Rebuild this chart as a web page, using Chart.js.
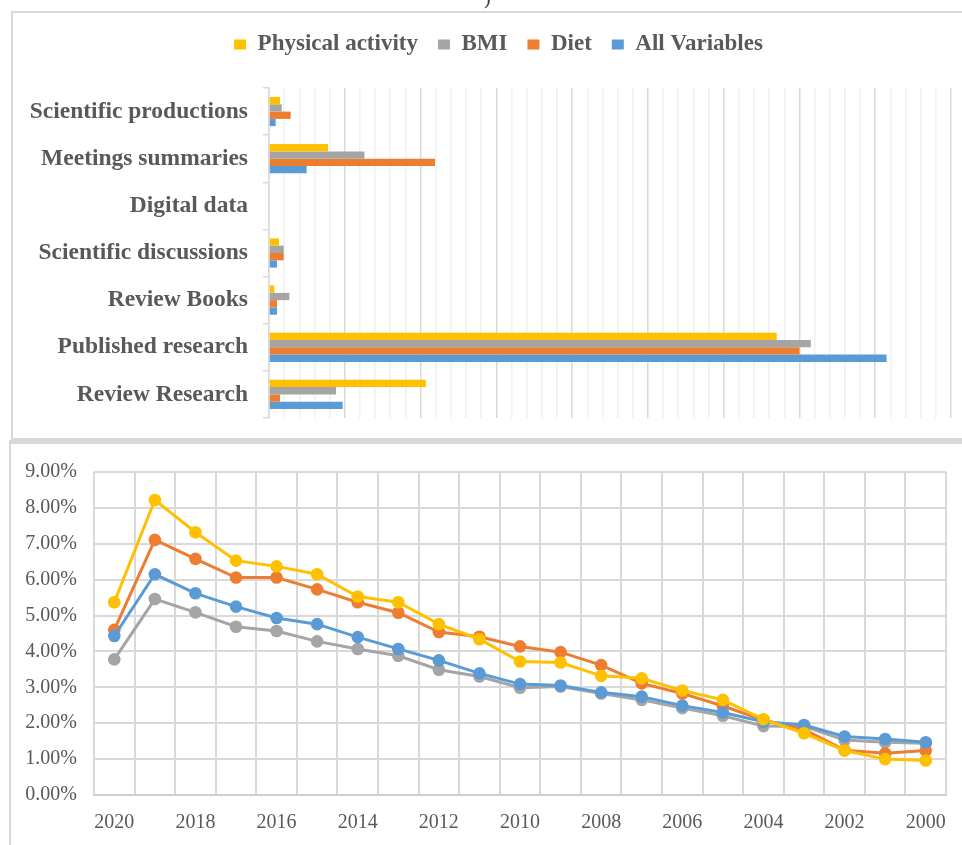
<!DOCTYPE html>
<html>
<head>
<meta charset="utf-8">
<script src="https://cdn.jsdelivr.net/npm/chart.js@4.4.0/dist/chart.umd.min.js"></script>
<style>
html,body{margin:0;padding:0;background:#fff;width:962px;height:845px;overflow:hidden;position:relative;}
#frameTop{position:absolute;left:11px;top:11px;width:1000px;height:429px;border:2px solid #d9d9d9;box-sizing:border-box;}
#frameBot{position:absolute;left:9px;top:440px;width:1000px;height:430px;border:2px solid #d9d9d9;border-top-width:4px;box-sizing:border-box;}
#c1wrap{position:absolute;left:0;top:0;width:997px;height:440px;}
#c2wrap{position:absolute;left:0;top:441px;width:962px;height:404px;}
#paren{position:absolute;left:484px;top:-13px;font:20px 'Liberation Serif';color:#333;line-height:20px;}
</style>
</head>
<body>
<div id="paren">)</div>
<div id="frameTop"></div>
<div id="frameBot"></div>
<div id="c1wrap"><canvas id="c1"></canvas></div>
<div id="c2wrap"><canvas id="c2"></canvas></div>
<script>
// ---- Top chart data (percent share by publication type) ----
const categories = ['Scientific productions','Meetings summaries','Digital data','Scientific discussions','Review Books','Published research','Review Research'];
const physicalActivity = [1.45, 7.78, 0, 1.32, 0.70, 67.0, 20.7];
const bmi = [1.68, 12.6, 0, 1.94, 2.68, 71.5, 8.84];
const diet = [2.86, 21.9, 0, 1.94, 1.06, 70.0, 1.45];
const allVariables = [0.88, 4.97, 0, 1.06, 1.06, 81.5, 9.72];

// ---- Bottom chart data (percent by year) ----
const years = ['2020','2019','2018','2017','2016','2015','2014','2013','2012','2011','2010','2009','2008','2007','2006','2005','2004','2003','2002','2001','2000'];
const paByYear   = [5.37,8.22,7.32,6.53,6.37,6.15,5.53,5.37,4.76,4.34,3.72,3.69,3.32,3.25,2.91,2.65,2.11,1.72,1.24,1.00,0.96];
const dietByYear = [4.60,7.11,6.58,6.06,6.06,5.73,5.37,5.08,4.54,4.41,4.14,3.98,3.62,3.11,2.83,2.48,2.09,1.83,1.25,1.16,1.24];
const allByYear  = [4.43,6.15,5.62,5.25,4.93,4.76,4.40,4.07,3.75,3.39,3.09,3.05,2.86,2.74,2.49,2.30,2.04,1.95,1.63,1.56,1.47];
const bmiByYear  = [3.78,5.46,5.09,4.69,4.57,4.28,4.07,3.88,3.49,3.30,2.99,3.02,2.83,2.65,2.42,2.21,1.92,1.91,1.53,1.47,1.44];
const yTicks = [0,1,2,3,4,5,6,7,8,9];

const YELLOW='#FFC000', GRAY='#A5A5A5', ORANGE='#ED7D31', BLUE='#5B9BD5';
const TXT='#595959';
const SERIF='"Liberation Serif", "Times New Roman", serif';

new Chart(document.getElementById('c1'), {
  type: 'bar',
  data: {
    labels: categories,
    datasets: [
      {label:'Physical activity', data: physicalActivity, backgroundColor: YELLOW},
      {label:'BMI', data: bmi, backgroundColor: GRAY},
      {label:'Diet', data: diet, backgroundColor: ORANGE},
      {label:'All Variables', data: allVariables, backgroundColor: BLUE}
    ]
  },
  options: {
    indexAxis: 'y',
    responsive: true,
    maintainAspectRatio: false,
    animation: false,
    datasets: { bar: { categoryPercentage: 0.62, barPercentage: 1.0, borderWidth: 0 } },
    layout: { padding: { left: 0, right: 0, top: 13, bottom: 22 } },
    plugins: {
      legend: {
        position: 'top',
        labels: { boxWidth: 12, boxHeight: 10, padding: 20, color: TXT,
                  font: { family: SERIF, size: 23, weight: 'bold' } }
      },
      tooltip: { enabled: false }
    },
    scales: {
      x: {
        position: 'top', min: 0, max: 90,
        ticks: { display: false, stepSize: 2 },
        border: { display: false },
        grid: { drawTicks: false, lineWidth: 1.5,
                color: ctx => (ctx.tick && Math.round(ctx.tick.value) % 10 === 0) ? '#d9d9d9' : '#f0f0f0' },
        afterFit: s => { s.height = 22; }
      },
      y: {
        border: { display: true, color: '#d9d9d9', width: 1.5 },
        grid: { offset: true, drawOnChartArea: false, drawTicks: true, tickLength: 6, color: '#d9d9d9', lineWidth: 1.5 },
        ticks: { padding: 15, color: TXT, font: { family: SERIF, size: 23.5, weight: 'bold' } },
        afterFit: s => { s.width = 269; s.paddingTop = 0; s.paddingBottom = 0; }
      },
      ySpacer: {
        type: 'linear', axis: 'y', position: 'right', display: true,
        grid: { display: false, drawTicks: false }, border: { display: false },
        ticks: { display: false },
        afterFit: s => { s.width = 46; s.paddingTop = 0; s.paddingBottom = 0; }
      }
    }
  }
});

function lineDs(label, data, color) {
  return { label, data, borderColor: color, backgroundColor: color,
           pointBackgroundColor: color, pointBorderColor: color,
           borderWidth: 3, pointRadius: 6.3, pointBorderWidth: 0, pointHoverRadius: 6.3, tension: 0 };
}

new Chart(document.getElementById('c2'), {
  type: 'line',
  data: {
    labels: years,
    datasets: [
      lineDs('Physical activity', paByYear, YELLOW),
      lineDs('All Variables', allByYear, BLUE),
      lineDs('Diet', dietByYear, ORANGE),
      lineDs('BMI', bmiByYear, GRAY)
    ]
  },
  options: {
    responsive: true,
    maintainAspectRatio: false,
    animation: false,
    layout: { padding: { left: 0, right: 11, top: 31, bottom: 0 } },
    plugins: { legend: { display: false }, tooltip: { enabled: false } },
    scales: {
      x: {
        offset: true,
        grid: { offset: true, color: '#d9d9d9', lineWidth: 2, drawTicks: false },
        border: { color: '#cfcfcf', width: 2 },
        ticks: { autoSkip: false, maxRotation: 0, padding: 16, color: TXT,
                 font: { family: SERIF, size: 20 },
                 callback: (v, i) => (i % 2 === 0 ? years[i] : '') },
        afterFit: s => { s.height = 50; }
      },
      y: {
        min: yTicks[0], max: yTicks[yTicks.length - 1],
        afterBuildTicks: s => { s.ticks = yTicks.map(v => ({ value: v })); },
        ticks: { padding: 17, color: TXT, font: { family: SERIF, size: 20 },
                 callback: v => Number(v).toFixed(2) + '%' },
        grid: { color: '#d9d9d9', lineWidth: 2, drawTicks: false },
        border: { display: false },
        afterFit: s => { s.width = 94; s.paddingTop = 0; s.paddingBottom = 0; }
      }
    }
  }
});
</script>
</body>
</html>
